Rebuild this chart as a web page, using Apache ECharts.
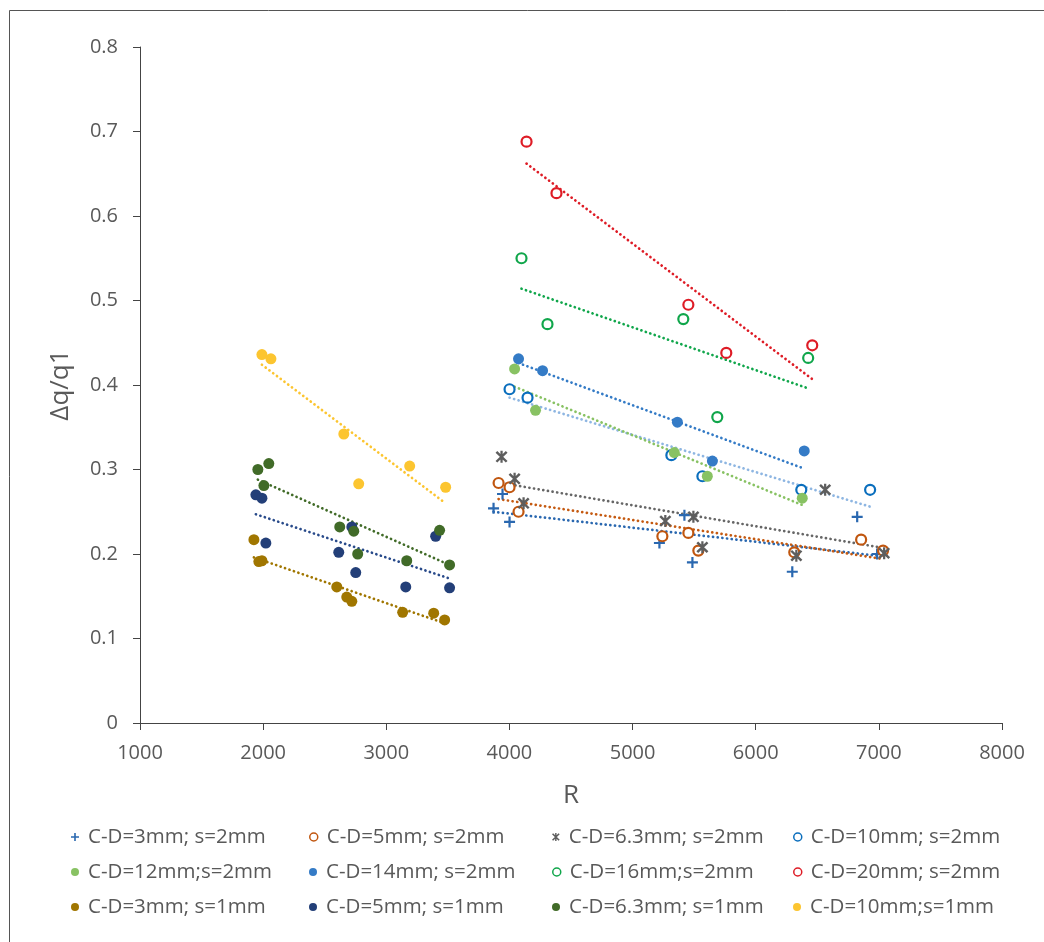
<!DOCTYPE html>
<html>
<head>
<meta charset="utf-8">
<script src="https://cdn.jsdelivr.net/npm/echarts@6/dist/echarts.min.js"></script>
<style>
  html, body { margin: 0; padding: 0; background: #fff; }
  #chart { width: 1044px; height: 942px; }
</style>
</head>
<body>
<div id="chart"></div>
<script>
// axis ticks
const xTicks = { min: 1000, max: 8000, step: 1000 };
const yTicks = { min: 0, max: 0.8, step: 0.1 };

// s = 2mm series, [R, dq/q1]
const cd3s2 = [[3871, 0.254], [3944, 0.271], [4001, 0.238], [5218, 0.213], [5421, 0.246], [5486, 0.190], [6297, 0.179], [6824, 0.244], [6986, 0.200]];
const cd5s2 = [[3912, 0.284], [4001, 0.279], [4074, 0.250], [5242, 0.221], [5453, 0.225], [5534, 0.204], [6313, 0.202], [6856, 0.217], [7034, 0.204]];
const cd63s2 = [[3936, 0.315], [4042, 0.289], [4115, 0.260], [5266, 0.239], [5494, 0.244], [5567, 0.208], [6330, 0.198], [6564, 0.276], [7043, 0.201]];
const cd10s2 = [[4001, 0.395], [4147, 0.385], [5315, 0.317], [5567, 0.292], [6370, 0.276], [6929, 0.276]];
const cd12s2 = [[4042, 0.419], [4212, 0.370], [5339, 0.320], [5607, 0.292], [6378, 0.266]];
const cd14s2 = [[4074, 0.431], [4269, 0.417], [5364, 0.356], [5648, 0.310], [6394, 0.322]];
const cd16s2 = [[4098, 0.550], [4309, 0.472], [5412, 0.478], [5688, 0.362], [6426, 0.432]];
const cd20s2 = [[4139, 0.688], [4382, 0.627], [5453, 0.495], [5761, 0.438], [6459, 0.447]];

// s = 1mm series
const cd3s1 = [[1925, 0.217], [1965, 0.191], [1990, 0.192], [2598, 0.161], [2679, 0.149], [2720, 0.144], [3133, 0.131], [3385, 0.130], [3474, 0.122]];
const cd5s1 = [[1941, 0.270], [1990, 0.266], [2022, 0.213], [2614, 0.202], [2720, 0.232], [2752, 0.178], [3158, 0.161], [3401, 0.221], [3514, 0.160]];
const cd63s1 = [[1957, 0.300], [2046, 0.307], [2006, 0.281], [2622, 0.232], [2736, 0.227], [2768, 0.200], [3166, 0.192], [3433, 0.228], [3514, 0.187]];
const cd10s1 = [[1990, 0.436], [2063, 0.431], [2655, 0.342], [2776, 0.283], [3190, 0.304], [3482, 0.279]];

// linear trendlines (start, end)
const cd3s2Trend = [[3871, 0.250], [6986, 0.198]];
const cd5s2Trend = [[3912, 0.265], [7034, 0.194]];
const cd63s2Trend = [[3936, 0.284], [7043, 0.207]];
const cd10s2Trend = [[4001, 0.385], [6929, 0.256]];
const cd12s2Trend = [[4042, 0.398], [6378, 0.258]];
const cd14s2Trend = [[4074, 0.426], [6394, 0.301]];
const cd16s2Trend = [[4098, 0.514], [6426, 0.396]];
const cd20s2Trend = [[4139, 0.662], [6459, 0.407]];
const cd3s1Trend = [[1925, 0.196], [3474, 0.118]];
const cd5s1Trend = [[1941, 0.247], [3514, 0.171]];
const cd63s1Trend = [[1957, 0.288], [3514, 0.187]];
const cd10s1Trend = [[1990, 0.424], [3482, 0.260]];

const PLUS = 'path://M4,0H6V4H10V6H6V10H4V6H0V4H4Z';
const STAR = 'path://M4.1,0H5.9V10H4.1Z M0.2,1.6L1.6,0.2L9.8,8.4L8.4,9.8Z M8.4,0.2L9.8,1.6L1.6,9.8L0.2,8.4Z';

// legend order = row by row
const series = [
  { name: 'C-D=3mm; s=2mm', pts: cd3s2, trend: cd3s2Trend, color: '#2A68B0', line: '#2A68B0', mark: 'plus' },
  { name: 'C-D=5mm; s=2mm', pts: cd5s2, trend: cd5s2Trend, color: '#C0560F', line: '#C55A11', mark: 'hollow' },
  { name: 'C-D=6.3mm; s=2mm', pts: cd63s2, trend: cd63s2Trend, color: '#5E5E5E', line: '#666666', mark: 'star' },
  { name: 'C-D=10mm; s=2mm', pts: cd10s2, trend: cd10s2Trend, color: '#0A6EBD', line: '#8EB6E2', mark: 'hollow' },
  { name: 'C-D=12mm;s=2mm', pts: cd12s2, trend: cd12s2Trend, color: '#88C263', line: '#88C263', mark: 'dot' },
  { name: 'C-D=14mm; s=2mm', pts: cd14s2, trend: cd14s2Trend, color: '#347BC6', line: '#347BC6', mark: 'dot' },
  { name: 'C-D=16mm;s=2mm', pts: cd16s2, trend: cd16s2Trend, color: '#10A64B', line: '#10A64B', mark: 'hollow' },
  { name: 'C-D=20mm; s=2mm', pts: cd20s2, trend: cd20s2Trend, color: '#DE1C26', line: '#DE1C26', mark: 'hollow' },
  { name: 'C-D=3mm; s=1mm', pts: cd3s1, trend: cd3s1Trend, color: '#A07600', line: '#A07600', mark: 'dot' },
  { name: 'C-D=5mm; s=1mm', pts: cd5s1, trend: cd5s1Trend, color: '#233F78', line: '#284A8A', mark: 'dot' },
  { name: 'C-D=6.3mm; s=1mm', pts: cd63s1, trend: cd63s1Trend, color: '#416B28', line: '#416B28', mark: 'dot' },
  { name: 'C-D=10mm;s=1mm', pts: cd10s1, trend: cd10s1Trend, color: '#FCC530', line: '#FCC530', mark: 'dot' }
];

const FONT = 'Open Sans';
const TXT = '#595959';

function markerStyle(s) {
  if (s.mark === 'plus') return { symbol: PLUS, symbolSize: 11, itemStyle: { color: s.color, opacity: 1 } };
  if (s.mark === 'star') return { symbol: STAR, symbolSize: 12, itemStyle: { color: s.color, opacity: 1 } };
  if (s.mark === 'hollow') return { symbol: 'circle', symbolSize: 10, itemStyle: { color: '#fff', borderColor: s.color, borderWidth: 2.2, opacity: 1 } };
  return { symbol: 'circle', symbolSize: 11, itemStyle: { color: s.color, opacity: 1 } };
}

const chartSeries = [];
series.forEach((s, i) => {
  chartSeries.push({
    name: 'trend ' + i,
    type: 'line',
    data: s.trend,
    symbol: 'none',
    silent: true,
    z: 1,
    lineStyle: { color: s.line, width: 2.7, type: [0.1, 4.6], cap: 'round' }
  });
});
series.forEach((s) => {
  chartSeries.push(Object.assign({
    name: s.name,
    type: 'scatter',
    data: s.pts,
    z: 3
  }, markerStyle(s)));
});

const colX = [75, 313, 556, 797];
const rowY = [837, 872, 907];
const legends = series.map((s, i) => {
  const m = markerStyle(s);
  let itemStyle;
  if (s.mark === 'hollow') itemStyle = { color: '#fff', borderColor: s.color, borderWidth: 1.5 };
  return {
    left: colX[i % 4] - 4,
    top: rowY[Math.floor(i / 4)] - 12,
    orient: 'horizontal',
    padding: 0,
    itemWidth: 8,
    itemHeight: 8,
    selectedMode: false,
    data: [{ name: s.name, icon: m.symbol, itemStyle: itemStyle }],
    textStyle: { fontFamily: FONT, fontSize: 20.5, color: TXT, padding: [0, 0, 0, 4], lineHeight: 24 }
  };
});

const chart = echarts.init(document.getElementById('chart'), null, { renderer: 'canvas' });
chart.setOption({
  animation: false,
  backgroundColor: '#fff',
  grid: { left: 140, right: 42, top: 47, bottom: 219 },
  graphic: [{
    type: 'rect',
    shape: { x: 9.5, y: 10.5, width: 1200, height: 1200 },
    style: { fill: 'none', stroke: '#555', lineWidth: 1 },
    silent: true
  }],
  legend: legends,
  xAxis: {
    type: 'value',
    min: xTicks.min, max: xTicks.max, interval: xTicks.step,
    name: 'R', nameLocation: 'middle', nameGap: 60,
    nameTextStyle: { fontFamily: FONT, fontSize: 26, color: TXT },
    axisLine: { show: true, onZero: false, lineStyle: { color: '#444', width: 1 } },
    axisTick: { show: true, length: 7, lineStyle: { color: '#444' } },
    axisLabel: { fontFamily: FONT, fontSize: 20, color: TXT, margin: 20, formatter: (v) => String(v) },
    splitLine: { show: false }
  },
  yAxis: {
    type: 'value',
    min: yTicks.min, max: yTicks.max, interval: yTicks.step,
    name: 'Δq/q1', nameLocation: 'middle', nameGap: 66,
    nameTextStyle: { fontFamily: FONT, fontSize: 26, color: TXT },
    axisLine: { show: true, lineStyle: { color: '#444', width: 1 } },
    axisTick: { show: true, length: 7, lineStyle: { color: '#444' } },
    axisLabel: { fontFamily: FONT, fontSize: 20, color: TXT, margin: 22 },
    splitLine: { show: false }
  },
  series: chartSeries
});
</script>
</body>
</html>
